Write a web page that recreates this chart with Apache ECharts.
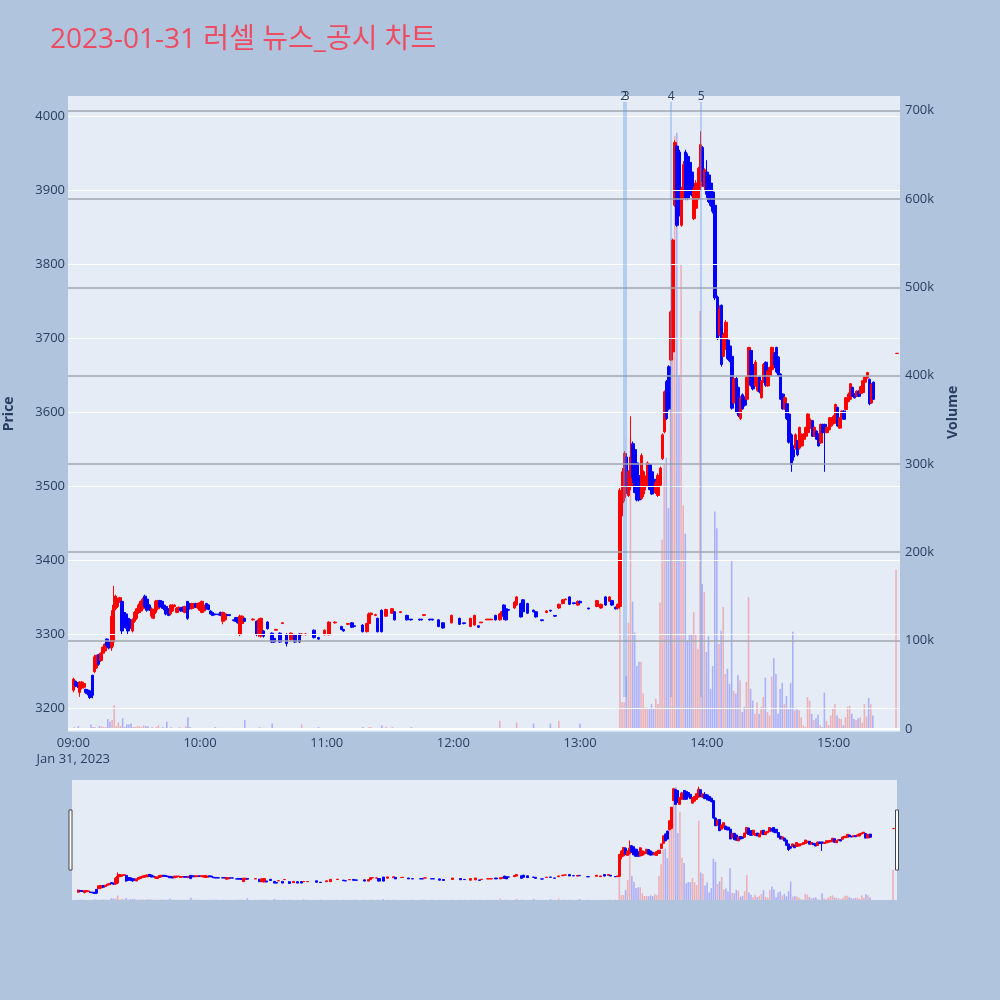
<!DOCTYPE html>
<html><head><meta charset="utf-8">
<script src="https://cdn.jsdelivr.net/npm/echarts@6/dist/echarts.min.js"></script>
<style>html,body{margin:0;padding:0;background:#B0C4DE;}#c{width:1000px;height:1000px;}</style>
</head><body><div id="c"></div>
<script>
// [time, open, close, low, high, volume (thousand shares)]
const morningBars = [
['09:00',3225,3240,3222,3242,2],['09:01',3237,3231,3229,3238,1],['09:02',3235,3230,3228,3236,3],
['09:03',3222,3236,3216,3237,1],['09:04',3228,3236,3226,3237,1],['09:05',3229,3234,3227,3235,1],
['09:06',3226,3222,3220,3227,1],['09:07',3225,3220,3218,3226,1],['09:08',3224,3215,3213,3225,5],
['09:09',3245,3218,3214,3246,2],['09:10',3250,3270,3248,3273,2],['09:11',3255,3272,3254,3273,1],
['09:12',3273,3260,3258,3274,3],['09:13',3265,3275,3263,3276,3],['09:14',3275,3283,3273,3284,2],
['09:15',3278,3287,3276,3288,2],['09:16',3294,3285,3283,3295,11],['09:17',3290,3282,3280,3292,8],
['09:18',3282,3325,3278,3333,10],['09:19',3290,3340,3284,3366,27],['09:20',3335,3352,3333,3354,3],
['09:21',3338,3348,3336,3350,7],['09:22',3345,3350,3343,3351,3],['09:23',3345,3305,3300,3346,12],
['09:24',3330,3310,3305,3332,2],['09:25',3328,3310,3308,3330,5],['09:26',3322,3305,3300,3324,5],
['09:27',3320,3310,3308,3321,6],['09:28',3305,3320,3303,3322,2],['09:29',3318,3330,3316,3332,2],
['09:30',3322,3335,3320,3336,3],['09:31',3330,3340,3328,3342,3],['09:32',3332,3345,3330,3346,2],
['09:33',3335,3348,3333,3350,4],['09:34',3352,3338,3336,3354,3],['09:35',3348,3333,3331,3350,3],
['09:36',3340,3334,3332,3341,1],['09:37',3325,3335,3322,3337,2],['09:38',3322,3334,3321,3335,1],
['09:39',3330,3345,3328,3347,2],['09:40',3335,3346,3333,3347,4],['09:41',3346,3338,3336,3347,1],
['09:42',3345,3337,3335,3346,2],['09:43',3340,3335,3333,3341,1],['09:44',3338,3328,3326,3340,8],
['09:45',3335,3326,3325,3336,1],['09:46',3328,3340,3326,3341,2],['09:47',3332,3340,3331,3341,1],
['09:48',3338,3340,3337,3341,1],['09:49',3330,3336,3329,3337,1],['09:50',3333,3337,3332,3338,2],
['09:51',3336,3332,3331,3337,1],['09:52',3337,3332,3331,3338,1],['09:53',3330,3338,3329,3339,3],
['09:54',3345,3322,3320,3345,13],['09:55',3342,3335,3334,3343,2],['09:56',3335,3342,3334,3343,1],
['09:57',3336,3342,3335,3343,1],['09:58',3342,3337,3336,3343,1],['09:59',3336,3342,3335,3343,1],
['10:00',3333,3343,3332,3344,1],['10:01',3330,3345,3329,3346,1],['10:02',3332,3340,3331,3341,1],
['10:03',3342,3335,3334,3343,1],['10:04',3340,3334,3333,3341,1],['10:05',3332,3328,3327,3333,1],
['10:06',3330,3326,3325,3331,1],['10:07',3328,3327,3326,3328,2],['10:09',3328,3327,3326,3328,1],
['10:10',3330,3326,3325,3331,1],['10:11',3318,3330,3314,3331,1],['10:12',3320,3328,3319,3329,1],
['10:13',3327,3326,3325,3327,1],['10:14',3327,3326,3325,3327,1],['10:16',3320,3319,3318,3320,1],
['10:17',3323,3318,3317,3324,1],['10:18',3322,3316,3315,3323,1],['10:19',3300,3325,3298,3327,1],
['10:20',3315,3325,3314,3326,1],['10:21',3322,3318,3317,3323,10]
];
const middayBars = [
['10:25',3320,3321,3319,3322,1],['10:27',3318,3300,3298,3319,1],['10:28',3300,3320,3297,3322,2],
['10:29',3298,3322,3296,3323,1],['10:30',3305,3298,3296,3306,1],['10:32',3317,3308,3307,3318,1],
['10:34',3302,3290,3289,3303,6],['10:35',3295,3290,3289,3296,1],['10:36',3306,3307,3306,3308,1],
['10:38',3302,3290,3289,3303,1],['10:39',3315,3316,3315,3317,1],['10:41',3300,3288,3284,3302,1],
['10:43',3293,3302,3292,3303,1],['10:45',3300,3290,3289,3301,1],['10:47',3301,3290,3289,3302,1],
['10:48',3300,3301,3299,3302,5],['10:50',3300,3301,3299,3302,1],['10:54',3306,3296,3295,3307,1],
['10:56',3296,3294,3293,3297,2],['10:59',3300,3306,3299,3307,1],['11:01',3300,3317,3299,3318,1],
['11:04',3316,3317,3315,3318,1],['11:07',3311,3307,3306,3312,1],['11:08',3307,3305,3304,3308,1],
['11:10',3314,3315,3313,3316,1],['11:12',3316,3310,3309,3317,1],['11:13',3312,3311,3310,3313,1],
['11:17',3313,3304,3303,3314,2],['11:19',3304,3315,3303,3316,1],['11:20',3315,3328,3314,3330,2],
['11:21',3327,3329,3326,3330,2],['11:23',3326,3327,3325,3328,1],['11:24',3322,3304,3303,3323,1],
['11:26',3333,3304,3303,3334,4],['11:28',3325,3334,3324,3335,2],['11:31',3329,3335,3328,3336,2],
['11:32',3331,3320,3319,3332,1],['11:35',3330,3331,3329,3332,1],['11:38',3326,3320,3319,3327,1],
['11:40',3321,3320,3319,3321,2],['11:44',3321,3320,3319,3321,1],['11:45',3321,3320,3319,3321,1],
['11:46',3326,3327,3325,3327,1],['11:49',3321,3320,3319,3321,1],['11:50',3321,3320,3319,3321,1],
['11:53',3320,3311,3310,3321,1],['11:55',3316,3309,3308,3317,1],['11:59',3316,3326,3315,3327,1],
['12:03',3322,3314,3313,3323,1],['12:05',3316,3315,3314,3316,1],['12:08',3311,3322,3310,3323,1],
['12:10',3313,3326,3312,3327,1],['12:12',3312,3310,3309,3312,1],['12:13',3316,3317,3316,3317,1],
['12:16',3320,3321,3320,3321,1],['12:17',3320,3321,3320,3321,1],['12:18',3320,3321,3320,3321,1],
['12:20',3326,3320,3319,3327,1],['12:22',3320,3328,3319,3329,9],['12:23',3325,3331,3324,3332,1],
['12:24',3340,3325,3320,3341,1],['12:25',3335,3320,3319,3336,1],['12:26',3334,3333,3332,3334,1],
['12:29',3336,3344,3335,3345,1],['12:30',3340,3351,3339,3352,7],['12:32',3342,3324,3323,3343,1],
['12:33',3347,3331,3330,3348,1],['12:35',3342,3329,3328,3343,1],['12:38',3333,3331,3330,3334,6],
['12:39',3331,3324,3323,3332,1],['12:42',3320,3319,3318,3320,1],['12:44',3330,3332,3329,3333,1],
['12:46',3333,3332,3331,3333,6],['12:48',3326,3325,3324,3326,1],['12:50',3336,3341,3335,3342,9],
['12:52',3342,3347,3341,3348,1],['12:53',3347,3348,3347,3349,1],['12:55',3351,3341,3340,3352,1],
['12:57',3343,3342,3341,3343,1],['12:59',3340,3345,3339,3346,1],['13:00',3345,3343,3342,3346,6],
['13:04',3336,3335,3334,3336,1],['13:08',3338,3346,3337,3347,1],['13:10',3336,3341,3335,3342,1],
['13:12',3351,3340,3339,3352,1],['13:14',3345,3351,3344,3352,1],['13:15',3346,3340,3339,3347,1],
['13:17',3337,3335,3334,3338,1],['13:18',3336,3341,3334,3342,1]
];
const surgeBars = [
['13:19',3338,3495,3335,3498,140],['13:20',3478,3520,3460,3525,30],['13:21',3485,3545,3480,3548,30],
['13:22',3540,3500,3490,3545,60],['13:23',3488,3520,3486,3522,120],['13:24',3500,3540,3495,3595,330],
['13:25',3558,3512,3505,3561,144],['13:26',3550,3492,3491,3554,109],['13:27',3532,3482,3480,3536,71],
['13:28',3515,3482,3480,3518,76],['13:29',3484,3542,3482,3545,76],['13:30',3490,3520,3486,3522,40],
['13:31',3500,3512,3495,3515,24],['13:32',3502,3532,3500,3534,24],['13:33',3530,3496,3495,3531,23],
['13:34',3520,3490,3489,3522,28],['13:35',3510,3492,3491,3513,23],['13:36',3492,3505,3490,3508,34],
['13:37',3488,3515,3486,3518,28],['13:38',3502,3525,3500,3527,143],['13:39',3538,3570,3536,3572,214],
['13:40',3574,3628,3572,3630,300],['13:41',3642,3592,3590,3644,307],['13:42',3662,3605,3603,3664,250],
['13:43',3671,3736,3670,3738,420],['13:44',3682,3833,3680,3835,520],['13:45',3880,3965,3878,3968,671],
['13:46',3960,3853,3851,3962,675],['13:47',3952,3868,3865,3955,400],['13:48',3853,3902,3851,3905,526],
['13:49',3890,3935,3888,3940,253],['13:50',3952,3890,3887,3955,221],['13:51',3946,3890,3887,3950,100],
['13:52',3938,3907,3905,3941,107],['13:53',3925,3894,3892,3928,107],['13:54',3862,3902,3860,3905,132],
['13:55',3876,3910,3874,3914,107],['13:56',3889,3930,3887,3932,90],['13:57',3905,3962,3900,3980,473]
];
const afternoonBars = [
['13:58',3958,3912,3905,3960,164],['13:59',3905,3928,3900,3930,155],['14:00',3925,3895,3890,3941,87],
['14:01',3921,3885,3883,3925,105],['14:02',3910,3880,3878,3912,45],['14:03',3898,3872,3869,3900,71],
['14:04',3880,3755,3752,3885,246],['14:05',3756,3700,3698,3758,227],['14:06',3705,3740,3703,3745,96],
['14:07',3745,3665,3662,3746,111],['14:08',3676,3705,3675,3708,138],['14:09',3686,3722,3685,3725,62],
['14:10',3698,3673,3671,3700,68],['14:11',3690,3670,3668,3692,51],['14:12',3676,3606,3604,3677,190],
['14:13',3613,3646,3612,3648,43],['14:14',3646,3600,3599,3648,40],['14:15',3634,3596,3594,3635,61],
['14:16',3592,3620,3590,3622,55],['14:17',3624,3605,3604,3626,19],['14:18',3620,3610,3608,3622,25],
['14:19',3618,3648,3617,3649,53],['14:20',3645,3688,3644,3689,149],['14:21',3684,3637,3635,3685,45],
['14:22',3665,3632,3630,3667,32],['14:23',3636,3668,3635,3671,17],['14:24',3630,3645,3628,3648,30],
['14:25',3648,3628,3626,3649,17],['14:26',3620,3642,3619,3644,25],['14:27',3641,3665,3640,3667,36],
['14:28',3668,3637,3635,3669,58],['14:29',3636,3656,3635,3658,19],['14:30',3650,3661,3649,3662,15],
['14:31',3658,3688,3657,3689,59],['14:32',3680,3665,3660,3682,80],['14:33',3688,3655,3653,3689,62],
['14:34',3675,3650,3649,3676,17],['14:35',3652,3618,3617,3653,45],['14:36',3625,3605,3604,3626,52],
['14:37',3605,3620,3604,3622,28],['14:38',3612,3592,3590,3613,37],['14:39',3598,3560,3558,3599,22],
['14:40',3570,3530,3520,3572,52],['14:41',3550,3540,3535,3556,110],['14:42',3552,3570,3550,3572,21],
['14:43',3562,3543,3541,3563,22],['14:44',3552,3580,3550,3581,21],['14:45',3555,3570,3554,3572,13],
['14:46',3564,3571,3563,3572,4],['14:47',3568,3580,3567,3581,2],['14:48',3573,3598,3572,3599,36],
['14:49',3580,3590,3578,3592,32],['14:50',3589,3568,3567,3590,17],['14:51',3568,3580,3567,3581,10],
['14:52',3575,3564,3563,3576,12],['14:53',3571,3555,3554,3572,16],['14:54',3559,3584,3558,3585,4],
['14:55',3584,3573,3572,3585,2],['14:56',3584,3575,3520,3585,41],['14:57',3573,3580,3572,3581,9],
['14:58',3577,3593,3576,3594,4],['14:59',3582,3593,3581,3594,15],['15:00',3585,3595,3584,3597,23],
['15:01',3586,3611,3585,3612,28],['15:02',3607,3582,3581,3608,15],['15:03',3579,3593,3578,3594,12],
['15:04',3594,3602,3594,3603,11],['15:05',3602,3591,3590,3603,4],['15:06',3604,3620,3603,3621,13],
['15:07',3615,3625,3614,3627,25],['15:08',3618,3639,3617,3640,26],['15:09',3634,3622,3621,3635,17],
['15:10',3625,3620,3619,3626,11],['15:11',3622,3629,3621,3630,10],['15:12',3629,3622,3621,3630,12],
['15:13',3626,3635,3625,3636,13],['15:14',3627,3643,3626,3644,7],['15:15',3641,3648,3640,3649,28],
['15:16',3647,3654,3646,3655,14],['15:17',3645,3612,3610,3646,35],['15:18',3613,3638,3612,3640,28],
['15:19',3641,3618,3617,3642,15]
];
const closingBars = [['15:30',3680,3680,3680,3680,180]];
const newsMarkers = [['2','13:20:36'],['3','13:21:48'],['4','13:43:06'],['5','13:57:18']];
const priceTicks = [3200,3300,3400,3500,3600,3700,3800,3900,4000];
const volumeTicks = [100,200,300,400,500,600,700];

const TXT = '#2a3f5f';
const FONT = '"Open Sans", "Noto Sans CJK KR", sans-serif';
function ts(s){ const p = s.split(':').map(Number); return new Date(2023,0,31,p[0],p[1],p[2]||0).getTime(); }
const X_MIN = ts('08:57:29'), X_MAX = ts('15:31:30');
const P_MIN = 3168.9, P_MAX = 4027.7, V_MAX = 716.6;
const MARK_LOW = 3215.8, MARK_HIGH = 4019.5;

const allBars = [].concat(morningBars, middayBars, surgeBars, afternoonBars, closingBars);
const candleData = allBars.map(b => [ts(b[0]), b[1], b[2], b[3], b[4]]);
let prevClose = null;
const volData = allBars.map(b => {
  const up = b[2] > b[1] || (b[2] === b[1] && (prevClose === null || b[2] >= prevClose));
  prevClose = b[2];
  return { value: [ts(b[0]), b[5]], itemStyle: { color: up ? 'rgba(255,0,0,0.25)' : 'rgba(0,0,255,0.25)' } };
});

const chart = echarts.init(document.getElementById('c'), null, {renderer:'canvas'});
const timeAxis = (gi, show) => ({
  type:'time', gridIndex:gi, min:X_MIN, max:X_MAX, show:show,
  minInterval:3600000, maxInterval:3600000,
  axisLine:{show:false}, axisTick:{show:false}, splitLine:{show:false},
  axisLabel:{show:show, color:TXT, fontSize:13, fontFamily:FONT, margin:4, lineHeight:16, hideOverlap:false,
    formatter: v => { const d = new Date(v); if (d.getMinutes()!==0 || d.getSeconds()!==0) return '';
      const s = String(d.getHours()).padStart(2,'0') + ':00';
      return d.getHours()===9 ? s + '\nJan 31, 2023' : s; }}
});
const candleStyle = {color:'#ff0000', color0:'#0000ff', borderColor:'#ff0000', borderColor0:'#0000ff', borderWidth:1};

chart.setOption({
  animation:false,
  backgroundColor:'#B0C4DE',
  title:{text:'2023-01-31 러셀 뉴스_공시 차트', left:45, top:21,
    textStyle:{color:'#ee4c62', fontSize:28, fontWeight:'normal', fontFamily:FONT}},
  grid:[
    {left:68, top:96, width:832, height:635.7, show:true, backgroundColor:'#E5ECF6', borderWidth:0, outerBoundsMode:'none', containLabel:false},
    {left:68, top:96, width:832, height:632.8, show:false, outerBoundsMode:'none', containLabel:false},
    {left:72, top:780, width:825, height:120, show:true, backgroundColor:'#E5ECF6', borderWidth:0, outerBoundsMode:'none', containLabel:false}
  ],
  xAxis:[ timeAxis(0,true), timeAxis(1,false), timeAxis(2,false) ],
  yAxis:[
    {type:'value', gridIndex:0, min:P_MIN, max:P_MAX, splitNumber:9, position:'left',
     axisLine:{show:false}, axisTick:{show:false}, splitLine:{show:false},
     axisLabel:{color:TXT, fontSize:13, fontFamily:FONT, margin:3, formatter: v => (Math.abs(v % 100) < 1e-6 ? String(v) : '')},
     name:'Price', nameLocation:'middle', nameGap:52, nameRotate:90,
     nameTextStyle:{color:TXT, fontSize:14, fontWeight:'bold', fontFamily:FONT}},
    {type:'value', gridIndex:1, min:0, max:V_MAX, splitNumber:8, position:'right',
     axisLine:{show:false}, axisTick:{show:false}, splitLine:{show:false},
     axisLabel:{color:TXT, fontSize:13, fontFamily:FONT, margin:5, formatter: v => (Math.abs(v % 100) < 1e-6 ? (v===0 ? '0' : v + 'k') : '')},
     name:'Volume', nameLocation:'middle', nameGap:46, nameRotate:90,
     nameTextStyle:{color:TXT, fontSize:14, fontWeight:'bold', fontFamily:FONT}},
    {type:'value', gridIndex:2, min:P_MIN, max:P_MAX, show:false, splitLine:{show:false}},
    {type:'value', gridIndex:2, min:0, max:V_MAX, show:false, splitLine:{show:false}}
  ],
  graphic:[
    {type:'rect', shape:{x:69, y:810, width:3, height:60}, style:{fill:'#ffffff', stroke:'#444', lineWidth:1}, z:100},
    {type:'rect', shape:{x:895.5, y:810, width:3, height:60}, style:{fill:'#ffffff', stroke:'#444', lineWidth:1}, z:100}
  ],
  series:[
    {type:'line', xAxisIndex:0, yAxisIndex:0, data:[], z:1, silent:true,
     markLine:{silent:true, symbol:['none','none'], animation:false, label:{show:false},
       lineStyle:{color:'#ffffff', width:1, type:'solid'}, data: priceTicks.map(v => ({yAxis:v}))}},
    {type:'line', xAxisIndex:1, yAxisIndex:1, data:[], z:1, silent:true,
     markLine:{silent:true, symbol:['none','none'], animation:false, label:{show:false},
       lineStyle:{color:'#a2a6ae', width:1.6, type:'solid'},
       data: [{yAxis:0, lineStyle:{color:'#ffffff', width:2}}].concat(volumeTicks.map(v => ({yAxis:v})))}},
    {type:'bar', xAxisIndex:1, yAxisIndex:1, data:volData, barWidth:1.6, z:2, silent:true},
    {type:'line', xAxisIndex:0, yAxisIndex:0, data:[], z:3, silent:true,
     markLine:{silent:true, symbol:['none','none'], animation:false,
       lineStyle:{color:'rgba(100,149,237,0.5)', width:1.5, type:'solid'},
       label:{show:true, position:'end', distance:-1, color:TXT, fontSize:12, fontFamily:FONT, formatter:'{b}'},
       data: newsMarkers.map(m => [{name:m[0], coord:[ts(m[1]), MARK_LOW]}, {coord:[ts(m[1]), MARK_HIGH]}])}},
    {type:'candlestick', xAxisIndex:0, yAxisIndex:0, data:candleData, barWidth:3, z:4, silent:true,
     encode:{x:0, y:[1,2,3,4]}, itemStyle:candleStyle},
    {type:'bar', xAxisIndex:2, yAxisIndex:3, data:volData, barWidth:1.6, z:2, silent:true},
    {type:'candlestick', xAxisIndex:2, yAxisIndex:2, data:candleData, barWidth:2.6, z:4, silent:true,
     encode:{x:0, y:[1,2,3,4]}, itemStyle:candleStyle}
  ]
});
</script></body></html>
